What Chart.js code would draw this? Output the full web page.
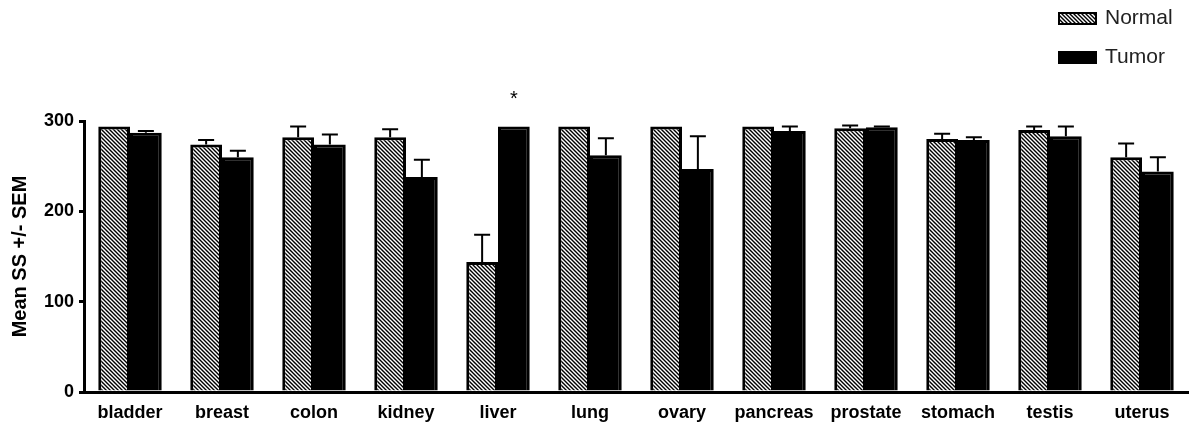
<!DOCTYPE html>
<html>
<head>
<meta charset="utf-8">
<script src="https://cdn.jsdelivr.net/npm/chart.js@4"></script>
<style>
  html, body { margin: 0; padding: 0; background: #fff; }
  #wrap { width: 1190px; height: 423px; }
</style>
</head>
<body>
<div id="wrap"><canvas id="myChart"></canvas></div>
<script>
const tissues = ["bladder", "breast", "colon", "kidney", "liver", "lung", "ovary", "pancreas", "prostate", "stomach", "testis", "uterus"];
const normal = [294, 274, 282, 282, 144, 294, 294, 294, 292, 280, 290, 260];
const normalSem = [0, 5, 12, 9, 30, 0, 0, 0, 3, 6, 4, 15];
const tumor = [287, 260, 274, 238, 294, 262, 247, 289, 293, 279, 283, 244];
const tumorSem = [2, 7, 11, 19, 0, 19, 36, 5, 1, 3, 11, 16];
const tumorMarks = ["", "", "", "", "*", "", "", "", "", "", "", ""];
const yTicks = [0, 100, 200, 300];

function hatch() {
  const c = document.createElement("canvas");
  c.width = 4;
  c.height = 4;
  const g = c.getContext("2d");
  g.fillStyle = "#fff";
  g.fillRect(0, 0, 4, 4);
  g.strokeStyle = "#000";
  g.lineWidth = 1.4;
  g.beginPath();
  g.moveTo(-1, -1); g.lineTo(5, 5);
  g.moveTo(3, -1); g.lineTo(5, 1);
  g.moveTo(-1, 3); g.lineTo(1, 5);
  g.stroke();
  return g.createPattern(c, "repeat");
}

const errs = [normalSem, tumorSem];

// upward error bars + significance marks
const errorBars = {
  id: "errorBars",
  afterDatasetsDraw(chart) {
    const ctx = chart.ctx;
    const y = chart.scales.y;
    ctx.save();
    ctx.strokeStyle = "#000";
    ctx.lineWidth = 2;
    chart.data.datasets.forEach((ds, i) => {
      const meta = chart.getDatasetMeta(i);
      meta.data.forEach((bar, j) => {
        const sem = errs[i][j];
        if (!sem) return;
        const top = y.getPixelForValue(ds.data[j] + sem);
        ctx.beginPath();
        ctx.moveTo(bar.x, bar.y);
        ctx.lineTo(bar.x, top);
        ctx.moveTo(bar.x - 8, top);
        ctx.lineTo(bar.x + 8, top);
        ctx.stroke();
      });
    });
    const tm = chart.getDatasetMeta(1);
    ctx.fillStyle = "#000";
    ctx.font = "20px 'Liberation Sans', Arial, sans-serif";
    ctx.textAlign = "center";
    ctx.textBaseline = "middle";
    tumorMarks.forEach((m, j) => {
      if (!m) return;
      ctx.fillText(m, tm.data[j].x, tm.data[j].y - 27);
    });
    ctx.restore();
  }
};

// stacked legend at top right
const sideLegend = {
  id: "sideLegend",
  afterDraw(chart) {
    const ctx = chart.ctx;
    ctx.save();
    ctx.font = "21px 'Liberation Sans', Arial, sans-serif";
    ctx.textBaseline = "middle";
    ctx.textAlign = "left";
    chart.data.datasets.forEach((ds, i) => {
      const cy = 18 + i * 39;
      ctx.fillStyle = ds.backgroundColor;
      ctx.fillRect(1058, cy - 6, 39, 13);
      ctx.strokeStyle = "#000";
      ctx.lineWidth = 2;
      ctx.strokeRect(1059, cy - 5, 37, 11);
      ctx.fillStyle = "#222";
      ctx.fillText(ds.label, 1105, cy);
    });
    ctx.restore();
  }
};

const data = {
  labels: tissues,
  datasets: [
    {
      label: "Normal",
      data: normal,
      backgroundColor: hatch(),
      borderColor: "#000",
      borderWidth: 3,
    },
    {
      label: "Tumor",
      data: tumor,
      backgroundColor: "#000",
      borderColor: "#000",
      borderWidth: 3,
    },
  ],
};

const config = {
  type: "bar",
  data: data,
  options: {
    responsive: true,
    maintainAspectRatio: false,
    animation: false,
    categoryPercentage: 0.69,
    barPercentage: 1.0,
    layout: {
      padding: { top: 121, right: 2, bottom: 0, left: 0 },
    },
    plugins: {
      legend: { display: false },
      tooltip: { enabled: false },
    },
    scales: {
      x: {
        offset: true,
        grid: { display: false },
        border: { display: true, color: "#000", width: 3 },
        ticks: {
          color: "#000",
          font: { family: "'Liberation Sans', Arial, sans-serif", size: 18, weight: "bold" },
          padding: 2,
          maxRotation: 0,
          autoSkip: false,
        },
        afterFit(scale) {
          scale.height = 31;
        },
      },
      y: {
        min: 0,
        max: 300,
        afterBuildTicks(scale) {
          scale.ticks = yTicks.map((v) => ({ value: v }));
        },
        grid: {
          drawOnChartArea: false,
          drawTicks: true,
          tickLength: 5,
          lineWidth: 3,
          color: "#000",
        },
        border: { display: true, color: "#000", width: 3 },
        ticks: {
          color: "#000",
          font: { family: "'Liberation Sans', Arial, sans-serif", size: 18, weight: "bold" },
          padding: 5,
        },
        title: {
          display: true,
          text: "Mean SS +/- SEM",
          color: "#000",
          font: { family: "'Liberation Sans', Arial, sans-serif", size: 20, weight: "bold" },
          padding: { top: 8, bottom: 0 },
        },
        afterFit(scale) {
          scale.width = 84;
        },
      },
    },
  },
  plugins: [errorBars, sideLegend],
};

const myChart = new Chart(document.getElementById("myChart"), config);
</script>
</body>
</html>
